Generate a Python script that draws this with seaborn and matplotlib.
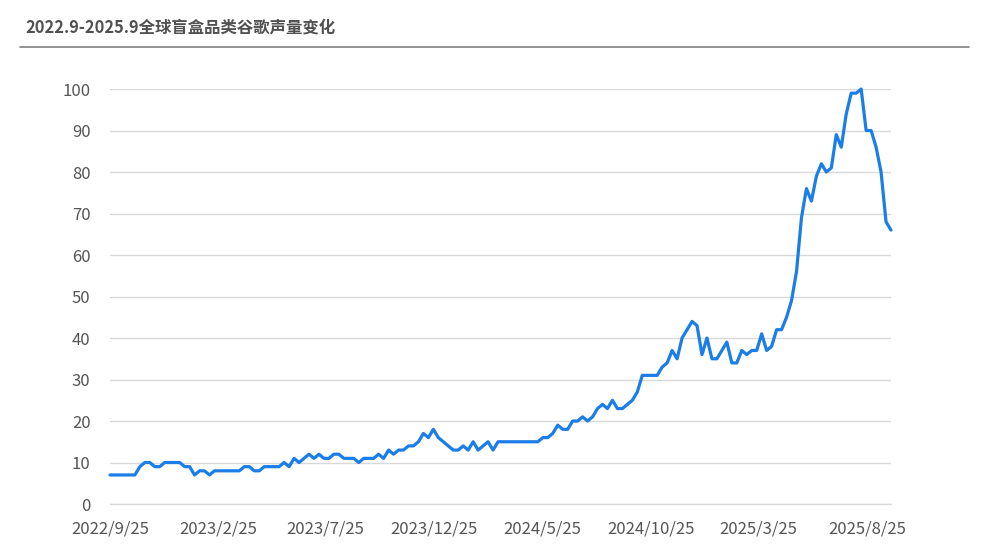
import pandas as pd
import matplotlib.pyplot as plt
import seaborn as sns

# weekly Google Trends index
start_date = "2022-09-25"
trend_values = [
    7, 7, 7, 7, 7, 7, 9, 10, 10, 9,
    9, 10, 10, 10, 10, 9, 9, 7, 8, 8,
    7, 8, 8, 8, 8, 8, 8, 9, 9, 8,
    8, 9, 9, 9, 9, 10, 9, 11, 10, 11,
    12, 11, 12, 11, 11, 12, 12, 11, 11, 11,
    10, 11, 11, 11, 12, 11, 13, 12, 13, 13,
    14, 14, 15, 17, 16, 18, 16, 15, 14, 13,
    13, 14, 13, 15, 13, 14, 15, 13, 15, 15,
    15, 15, 15, 15, 15, 15, 15, 16, 16, 17,
    19, 18, 18, 20, 20, 21, 20, 21, 23, 24,
    23, 25, 23, 23, 24, 25, 27, 31, 31, 31,
    31, 33, 34, 37, 35, 40, 42, 44, 43, 36,
    40, 35, 35, 37, 39, 34, 34, 37, 36, 37,
    37, 41, 37, 38, 42, 42, 45, 49, 56, 69,
    76, 73, 79, 82, 80, 81, 89, 86, 94, 99,
    99, 100, 90, 90, 86, 80, 68, 66,
]
tick_dates = ["2022-09-25", "2023-02-25", "2023-07-25", "2023-12-25",
              "2024-05-25", "2024-10-25", "2025-03-25", "2025-08-25"]
tick_labels = ["2022/9/25", "2023/2/25", "2023/7/25", "2023/12/25",
               "2024/5/25", "2024/10/25", "2025/3/25", "2025/8/25"]
title = "2022.9-2025.9全球盲盒品类谷歌声量变化"

df = pd.DataFrame({
    "date": pd.date_range(start_date, periods=len(trend_values), freq="7D"),
    "value": trend_values,
})

sns.set_theme(style="white")
plt.rcParams['font.family'] = ['Noto Sans CJK SC', 'DejaVu Sans']

fig = plt.figure(figsize=(9.84, 5.56), dpi=100)
ax = fig.add_axes([0.1118, 0.0935, 0.7937, 0.7464])

sns.lineplot(data=df, x="date", y="value", ax=ax, color="#1a7de8",
             linewidth=2.3, clip_on=False, zorder=3)

ax.set_xlim(df["date"].iloc[0], df["date"].iloc[-1])
ax.set_ylim(0, 100)
ax.set_yticks(range(0, 101, 10))
ax.set_xticks(pd.to_datetime(tick_dates))
ax.set_xticklabels(tick_labels)
ax.set_xlabel(None)
ax.set_ylabel(None)

# light horizontal grid only, no frame
ax.grid(axis="y", color="#d9d9d9", linewidth=1)
ax.axhline(0, color="#d9d9d9", linewidth=1, clip_on=False, zorder=1)
ax.set_axisbelow(True)
for s in ax.spines.values():
    s.set_visible(False)
ax.tick_params(axis="both", length=0, labelsize=12, labelcolor="#555555")
ax.tick_params(axis="x", pad=12)
ax.tick_params(axis="y", pad=14)

# title and rule above the chart
fig.text(25 / 984, 1 - 27 / 556, title, fontsize=11.8, fontweight="bold",
         color="#505050", va="center", ha="left")
fig.add_artist(plt.Line2D([20 / 984, 969 / 984], [1 - 47 / 556, 1 - 47 / 556],
                          color="#808080", linewidth=1.2))

fig.savefig("out.png", dpi=100)
